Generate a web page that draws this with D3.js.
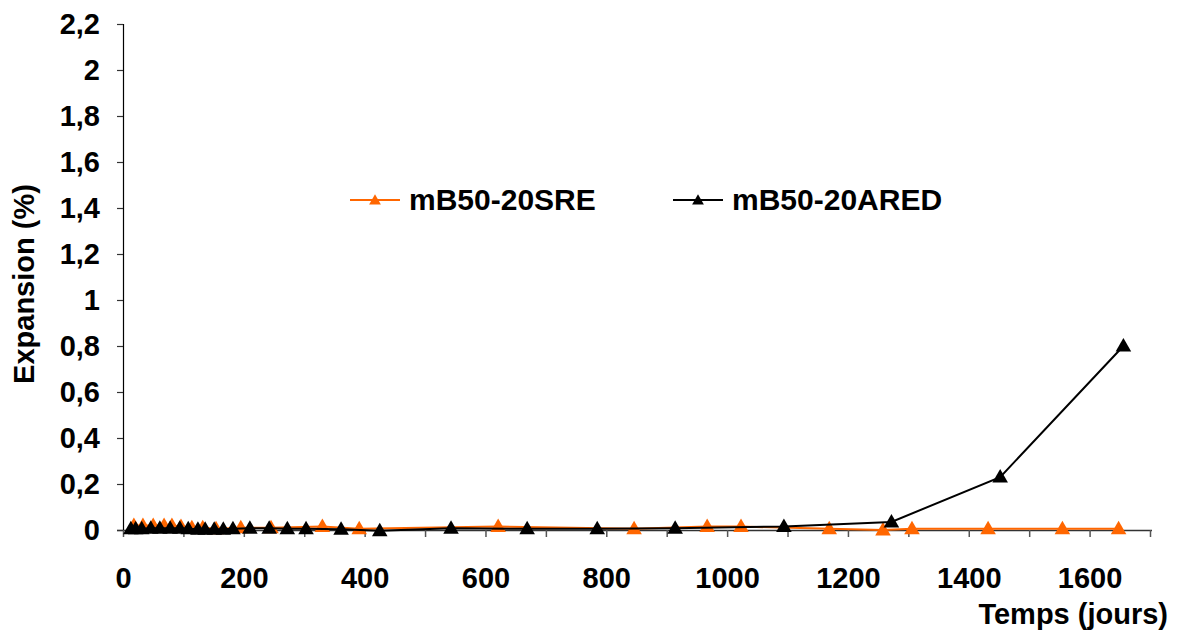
<!DOCTYPE html>
<html><head><meta charset="utf-8">
<script src="https://cdn.jsdelivr.net/npm/d3@7"></script>
<style>body{margin:0;background:#fff}svg{display:block}text{font-family:Arial,"Liberation Sans",sans-serif;font-weight:bold;fill:#000}</style>
</head><body><div id="chart"></div>
<script>
const seriesNames = ["mB50-20SRE", "mB50-20ARED"];
const sreDays = [18, 33, 50, 68, 81, 96, 114, 132, 154, 195, 245, 330, 391, 621, 846, 967, 1023, 1169, 1258, 1306, 1432, 1555, 1648];
const sreValues = [0.02, 0.02, 0.02, 0.02, 0.02, 0.015, 0.01, 0.01, 0.005, 0.01, 0.01, 0.015, 0.005, 0.015, 0.005, 0.015, 0.015, 0.005, 0.0, 0.005, 0.005, 0.005, 0.005];
const aredDays = [13, 21, 31, 46, 61, 78, 94, 108, 124, 136, 151, 166, 182, 210, 242, 272, 303, 361, 425, 543, 669, 785, 914, 1094, 1272, 1452, 1656];
const aredValues = [0.005, 0.005, 0.005, 0.008, 0.008, 0.008, 0.008, 0.005, 0.003, 0.003, 0.003, 0.003, 0.005, 0.008, 0.008, 0.005, 0.005, 0.003, -0.003, 0.008, 0.005, 0.005, 0.008, 0.015, 0.035, 0.23, 0.8];
const xTicks = [0, 200, 400, 600, 800, 1000, 1200, 1400, 1600];
const yTicks = [0, 0.2, 0.4, 0.6, 0.8, 1, 1.2, 1.4, 1.6, 1.8, 2, 2.2];
const colors = ["#FF6600", "#000000"];

const W = 1177, H = 632, FS = "29px";
const svg = d3.select("#chart").append("svg").attr("width", W).attr("height", H);
const x = d3.scaleLinear().domain([0, 1700]).range([123, 1150]);
const y = d3.scaleLinear().domain([0, 2.2]).range([530, 24]);
const fmt = v => d3.format("~g")(+v.toFixed(1)).replace(".", ",");

// x axis
const xAxis = svg.append("g").attr("transform", `translate(0,${y(0)})`)
  .call(d3.axisBottom(x).tickValues(d3.range(0, 1701, 100)).tickSize(7).tickFormat(d => xTicks.includes(d) ? d : ""));
xAxis.select(".domain").attr("stroke", "#333").attr("stroke-width", 1.5).attr("d", `M${x(0)-6},0.5H${x(1700)+2}`);
xAxis.selectAll(".tick line").attr("stroke", "#555").attr("stroke-width", 1.5);
xAxis.selectAll(".tick text").attr("y", 37).attr("dy", "0.71em").style("font-size", FS).style("font-weight", "bold").style("font-family", "Arial, 'Liberation Sans', sans-serif");

// y axis
const yAxis = svg.append("g").attr("transform", `translate(${x(0)},0)`)
  .call(d3.axisLeft(y).tickValues(yTicks).tickSize(6).tickPadding(17).tickFormat(fmt));
yAxis.select(".domain").attr("stroke", "#000").attr("stroke-width", 1.2).attr("d", `M0.5,${y(2.2)}V${y(0)}`);
yAxis.selectAll(".tick line").attr("stroke", "#333").attr("stroke-width", 1.2);
yAxis.selectAll(".tick text").style("font-size", FS).style("font-weight", "bold").style("font-family", "Arial, 'Liberation Sans', sans-serif");

const series = [
  {name: seriesNames[0], days: sreDays, vals: sreValues, color: colors[0]},
  {name: seriesNames[1], days: aredDays, vals: aredValues, color: colors[1]}
];
const line = d3.line().x(d => x(d[0])).y(d => y(d[1]));
const tri = d3.symbol().type(d3.symbolTriangle).size(105);
const triSmall = d3.symbol().type(d3.symbolTriangle).size(60);

series.forEach(s => {
  const pts = s.days.map((d, i) => [d, s.vals[i]]);
  svg.append("path").datum(pts).attr("d", line).attr("fill", "none").attr("stroke", s.color).attr("stroke-width", 2);
  svg.append("g").selectAll("path").data(pts).join("path")
    .attr("d", tri).attr("fill", s.color)
    .attr("transform", d => `translate(${x(d[0])},${y(d[1]) + 1})`);
});

// legend
const legX = [350, 673];
series.forEach((s, i) => {
  const g = svg.append("g").attr("transform", `translate(${legX[i]},200)`);
  g.append("line").attr("x1", 0).attr("x2", 50).attr("stroke", s.color).attr("stroke-width", 2);
  g.append("path").attr("d", triSmall).attr("fill", s.color).attr("transform", "translate(25,1)");
  g.append("text").attr("x", 59).attr("y", 10).style("font-size", "30px").text(s.name);
});

// axis titles
svg.append("text").attr("text-anchor", "end").attr("x", 1168).attr("y", 624).style("font-size", FS).text("Temps (jours)");
svg.append("text").attr("text-anchor", "middle").attr("transform", "translate(34,284) rotate(-90)").style("font-size", FS).text("Expansion (%)");
</script></body></html>
